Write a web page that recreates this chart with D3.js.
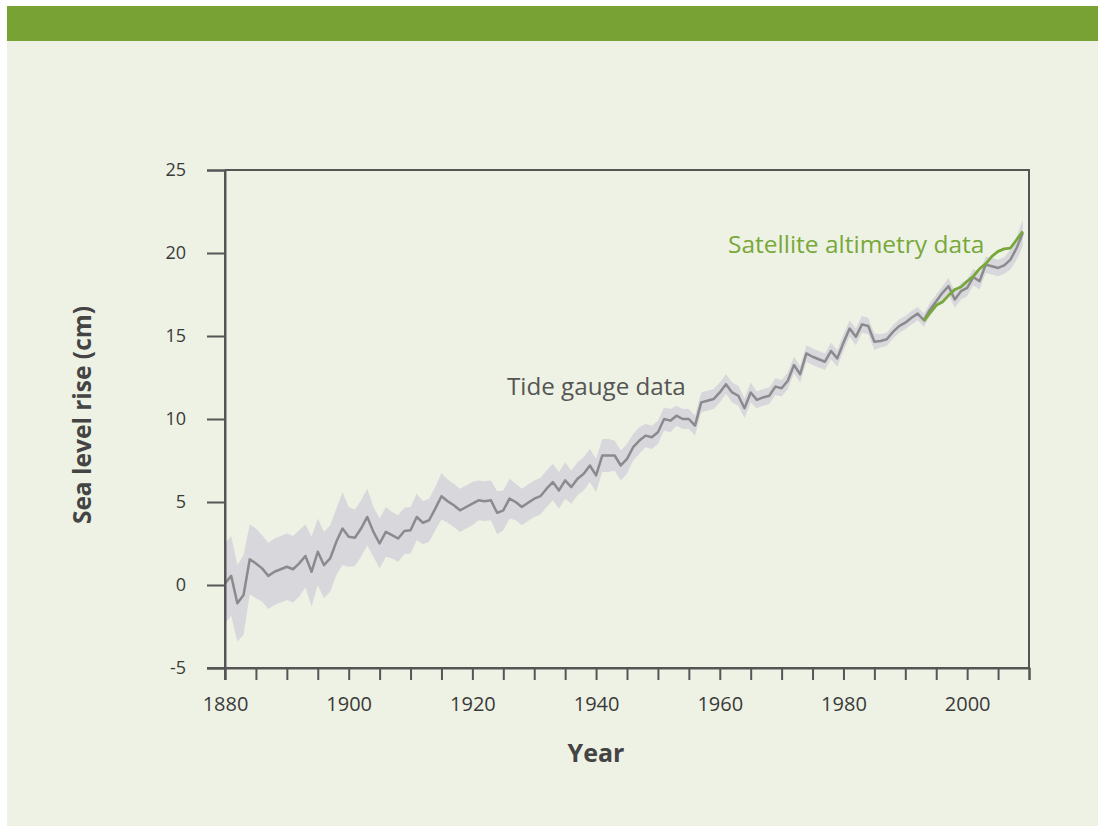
<!DOCTYPE html>
<html><head><meta charset="utf-8">
<script src="https://cdn.jsdelivr.net/npm/d3@7"></script>
<style>html,body{margin:0;padding:0;background:#fff;}svg{display:block;}</style>
</head><body>
<script>
const years = d3.range(1880, 2010);
const tideValues = [
 0.1, 0.55, -1.1, -0.6, 1.55, 1.3, 1.0, 0.55, 0.8, 0.95,
 1.1, 0.95, 1.3, 1.75, 0.8, 2.0, 1.2, 1.6, 2.6, 3.4,
 2.9, 2.85, 3.4, 4.1, 3.2, 2.5, 3.2, 3.0, 2.8, 3.25,
 3.3, 4.1, 3.75, 3.9, 4.6, 5.35, 5.05, 4.8, 4.5, 4.7,
 4.9, 5.1, 5.05, 5.1, 4.35, 4.5, 5.2, 5.0, 4.7, 4.95,
 5.2, 5.35, 5.8, 6.2, 5.7, 6.3, 5.9, 6.4, 6.7, 7.2,
 6.6, 7.8, 7.8, 7.8, 7.2, 7.6, 8.3, 8.7, 9.0, 8.9,
 9.2, 10.0, 9.9, 10.2, 10.0, 10.0, 9.6, 11.0, 11.1, 11.2,
 11.6, 12.1, 11.6, 11.4, 10.65, 11.6, 11.15, 11.3, 11.4, 11.95,
 11.85, 12.3, 13.25, 12.7, 13.95, 13.75, 13.6, 13.45, 14.1, 13.65,
 14.6, 15.45, 14.95, 15.7, 15.6, 14.65, 14.7, 14.8, 15.25, 15.6,
 15.8, 16.1, 16.35, 15.95, 16.6, 17.1, 17.6, 18.0, 17.2, 17.7,
 17.9, 18.55, 18.3, 19.3, 19.2, 19.1, 19.25, 19.6, 20.3, 21.2
];
const tideErr = [
 2.4, 2.4, 2.3, 2.4, 2.1, 2.1, 2.0, 2.0, 2.0, 2.0,
 2.0, 2.0, 2.0, 1.9, 2.1, 2.0, 2.0, 2.0, 2.0, 2.2,
 1.8, 1.7, 1.7, 1.7, 1.5, 1.5, 1.5, 1.4, 1.4, 1.4,
 1.4, 1.4, 1.3, 1.3, 1.3, 1.4, 1.3, 1.3, 1.3, 1.3,
 1.3, 1.2, 1.2, 1.2, 1.3, 1.2, 1.2, 1.1, 1.1, 1.1,
 1.1, 1.1, 1.1, 1.1, 1.1, 1.1, 1.0, 1.0, 1.0, 1.0,
 1.0, 1.0, 1.0, 0.9, 0.9, 0.9, 0.8, 0.8, 0.7, 0.7,
 0.7, 0.7, 0.7, 0.6, 0.6, 0.6, 0.6, 0.6, 0.6, 0.6,
 0.6, 0.6, 0.6, 0.6, 0.6, 0.6, 0.5, 0.5, 0.5, 0.5,
 0.5, 0.5, 0.5, 0.5, 0.5, 0.5, 0.5, 0.5, 0.5, 0.5,
 0.5, 0.5, 0.5, 0.5, 0.5, 0.5, 0.4, 0.4, 0.4, 0.4,
 0.4, 0.4, 0.4, 0.4, 0.4, 0.4, 0.4, 0.5, 0.5, 0.5,
 0.5, 0.5, 0.5, 0.5, 0.5, 0.5, 0.5, 0.6, 0.7, 0.8
];
const satYears = d3.range(1993, 2010);
const satValues = [15.9, 16.4, 16.85, 17.05, 17.45, 17.8, 17.95, 18.3, 18.6, 19.05, 19.35, 19.8, 20.1, 20.25, 20.3, 20.8, 21.3];
const yTicks = [-5, 0, 5, 10, 15, 20, 25];
const xLabelTicks = [1880, 1900, 1920, 1940, 1960, 1980, 2000];
const xMinorTicks = d3.range(1880, 2011, 5);
const labels = {y: "Sea level rise (cm)", x: "Year", tide: "Tide gauge data", sat: "Satellite altimetry data"};

const W = 1098, H = 828;
const svg = d3.select("body").append("svg").attr("width", W).attr("height", H);
svg.append("rect").attr("x", 7).attr("y", 6).attr("width", W - 7).attr("height", 820).attr("fill", "#eef2e4");
svg.append("rect").attr("x", 7).attr("y", 6).attr("width", W - 7).attr("height", 35).attr("fill", "#79a235");

const L = 225, R = 1029, T = 170, B = 668;
const x = d3.scaleLinear().domain([1880, 2010]).range([L, R]);
const y = d3.scaleLinear().domain([-5, 25]).range([B, T]);

const tide = years.map((yr, i) => ({yr, v: tideValues[i], e: tideErr[i]}));
const sat = satYears.map((yr, i) => ({yr, v: satValues[i]}));

svg.append("path").datum(tide)
  .attr("fill", "#d7d7dc")
  .attr("d", d3.area().x(d => x(d.yr)).y0(d => y(d.v - d.e)).y1(d => y(d.v + d.e)));
svg.append("path").datum(tide)
  .attr("fill", "none").attr("stroke", "#8b8b8e").attr("stroke-width", 2.5).attr("stroke-linejoin", "round")
  .attr("d", d3.line().x(d => x(d.yr)).y(d => y(d.v)));
svg.append("path").datum(sat)
  .attr("fill", "none").attr("stroke", "#78a83a").attr("stroke-width", 2.8).attr("stroke-linejoin", "round")
  .attr("d", d3.line().x(d => x(d.yr)).y(d => y(d.v)));

const axisColor = "#555";
const font = "'Open Sans', sans-serif";
svg.append("line").attr("x1", R).attr("x2", R).attr("y1", T).attr("y2", B).attr("stroke", axisColor).attr("stroke-width", 2);

const yAxis = svg.append("g").attr("transform", `translate(${L},0)`)
  .call(d3.axisLeft(y).tickValues(yTicks).tickSize(18).tickPadding(21).tickFormat(d => String(d)));
const xAxis = svg.append("g").attr("transform", `translate(0,${B})`)
  .call(d3.axisBottom(x).tickValues(xMinorTicks).tickSize(12).tickPadding(17)
    .tickFormat(d => xLabelTicks.includes(d) ? String(d) : ""));
[yAxis, xAxis].forEach(g => {
  g.select(".domain").attr("stroke", axisColor).attr("stroke-width", 2);
  g.selectAll(".tick line").attr("stroke", axisColor).attr("stroke-width", 2);
  g.selectAll(".tick text").attr("fill", "#3a3a3a").style("font-family", font);
});
yAxis.selectAll(".tick text").style("font-size", "18px");
xAxis.selectAll(".tick text").style("font-size", "20px");
svg.append("line").attr("x1", L).attr("x2", R + 1).attr("y1", T).attr("y2", T).attr("stroke", axisColor).attr("stroke-width", 2);
svg.append("line").attr("x1", L - 18).attr("x2", R + 1).attr("y1", B).attr("y2", B).attr("stroke", axisColor).attr("stroke-width", 2);
svg.append("line").attr("x1", L).attr("x2", L).attr("y1", T).attr("y2", B + 12).attr("stroke", axisColor).attr("stroke-width", 2);

svg.append("text").attr("transform", `translate(91,${(T + B) / 2 - 4}) rotate(-90)`)
  .attr("text-anchor", "middle").attr("fill", "#444").style("font-family", font)
  .style("font-size", "24.5px").style("font-weight", "bold").text(labels.y);
svg.append("text").attr("x", 596).attr("y", 762).attr("text-anchor", "middle").attr("fill", "#444")
  .style("font-family", font).style("font-size", "25px").style("font-weight", "bold").text(labels.x);
svg.append("text").attr("x", 507).attr("y", 395).attr("fill", "#555")
  .style("font-family", font).style("font-size", "24.2px").text(labels.tide);
svg.append("text").attr("x", 728).attr("y", 253).attr("fill", "#78a83a")
  .style("font-family", font).style("font-size", "24.5px").text(labels.sat);
</script>
</body></html>
